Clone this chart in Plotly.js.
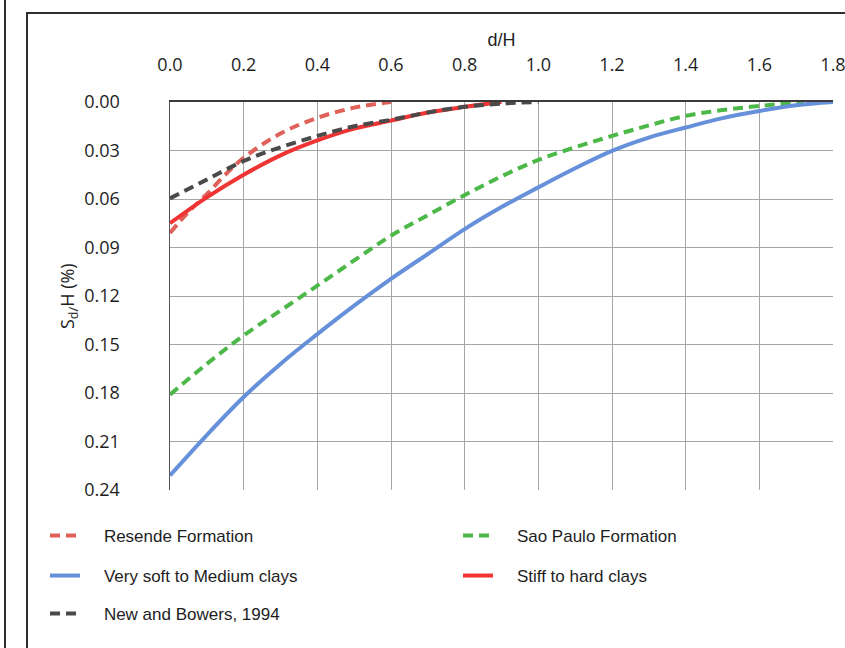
<!DOCTYPE html>
<html>
<head>
<meta charset="utf-8">
<script src="https://cdn.plot.ly/plotly-3.0.1.min.js"></script>
<style>
  html, body { margin: 0; padding: 0; background: #fff; }
  #wrap { position: relative; width: 845px; height: 648px; overflow: hidden; }
  #chart { position: absolute; left: 0; top: 0; width: 845px; height: 648px; }
  .frame { position: absolute; pointer-events: none; background: #2e2e2e; }
</style>
</head>
<body>
<div id="wrap">
  <div id="chart"></div>
  <div class="frame" style="left:4px; top:0; width:2px; height:648px;"></div>
  <div class="frame" style="left:26px; top:12px; width:2px; height:636px;"></div>
  <div class="frame" style="left:26px; top:12px; width:819px; height:2px;"></div>
</div>
<script>
// d/H values and settlement ratio S_d/H (%)
const resendeX = [0, 0.05, 0.1, 0.15, 0.2, 0.3, 0.4, 0.5, 0.6];
const resendeY = [0.081, 0.068, 0.057, 0.045, 0.0345, 0.0195, 0.0098, 0.0035, 0.0];

const saoPauloX = [0, 0.1, 0.2, 0.3, 0.4, 0.5, 0.6, 0.7, 0.8, 0.9, 1.0, 1.1, 1.2, 1.3, 1.4, 1.5, 1.6, 1.72];
const saoPauloY = [0.181, 0.162, 0.1444, 0.129, 0.1136, 0.098, 0.0827, 0.070, 0.0576, 0.046, 0.0358, 0.028, 0.021, 0.0145, 0.0086, 0.005, 0.0025, 0.0];

const softX = [0, 0.1, 0.2, 0.3, 0.4, 0.5, 0.6, 0.7, 0.8, 0.9, 1.0, 1.1, 1.2, 1.3, 1.4, 1.5, 1.6, 1.7, 1.8];
const softY = [0.231, 0.206, 0.1825, 0.162, 0.1436, 0.126, 0.1094, 0.094, 0.0786, 0.065, 0.0528, 0.041, 0.0302, 0.022, 0.0158, 0.010, 0.0056, 0.002, 0.0];

const stiffX = [0, 0.1, 0.2, 0.3, 0.4, 0.5, 0.6, 0.7, 0.8, 0.9];
const stiffY = [0.075, 0.059, 0.045, 0.033, 0.0238, 0.0165, 0.0115, 0.0065, 0.003, 0.0];

const newBowersX = [0, 0.1, 0.2, 0.3, 0.4, 0.5, 0.6, 0.7, 0.8, 0.9, 1.0];
const newBowersY = [0.0596, 0.048, 0.0365, 0.028, 0.021, 0.015, 0.011, 0.0065, 0.003, 0.001, 0.0];

const names = ["Resende Formation", "Sao Paulo Formation", "Very soft to Medium clays", "Stiff to hard clays", "New and Bowers, 1994"];
const xTickVals = [0, 0.2, 0.4, 0.6, 0.8, 1.0, 1.2, 1.4, 1.6, 1.8];
const yTickVals = [0, 0.03, 0.06, 0.09, 0.12, 0.15, 0.18, 0.21, 0.24];
const xTitle = "d/H";
const yTitle = "S<sub>d/</sub>H (%)";

const tickFont = {family: "Open Sans, DejaVu Sans, sans-serif", size: 18, color: "#1e1e1e"};
const legFont = {family: "Liberation Sans, Arial, sans-serif", size: 17, color: "#1e1e1e"};
const pad = "\u00A0\u00A0\u00A0\u00A0";

const traces = [
  {x: resendeX, y: resendeY, name: pad + names[0], legend: "legend", mode: "lines",
   line: {color: "#e0605a", width: 4, dash: "10px,6px", shape: "spline"}},
  {x: saoPauloX, y: saoPauloY, name: pad + names[1], legend: "legend2", mode: "lines",
   line: {color: "#4cb848", width: 4, dash: "10px,6px", shape: "spline"}},
  {x: softX, y: softY, name: pad + names[2], legend: "legend3", mode: "lines",
   line: {color: "#6690da", width: 4, shape: "spline"}},
  {x: stiffX, y: stiffY, name: pad + names[3], legend: "legend4", mode: "lines",
   line: {color: "#f03434", width: 4, shape: "spline"}},
  {x: newBowersX, y: newBowersY, name: pad + names[4], legend: "legend5", mode: "lines",
   line: {color: "#4a4a4a", width: 4, dash: "10px,6px", shape: "spline"}}
];

function legendAt(xPx, yPx) {
  return {
    orientation: "v", xref: "container", yref: "container",
    x: xPx / 845, y: 1 - yPx / 648, xanchor: "left", yanchor: "middle",
    itemwidth: 30, font: legFont, bgcolor: "rgba(0,0,0,0)", borderwidth: 0,
    itemclick: false, itemdoubleclick: false
  };
}

const layout = {
  width: 845, height: 648,
  margin: {l: 170, r: 12, t: 102, b: 158, autoexpand: false},
  paper_bgcolor: "#ffffff", plot_bgcolor: "#ffffff",
  showlegend: true,
  xaxis: {
    side: "top", range: [0, 1.8], tickvals: xTickVals, tickformat: ".1f",
    showgrid: true, gridcolor: "#a6a6a6", gridwidth: 1, zeroline: false,
    showline: true, linecolor: "#3a3a3a", linewidth: 2,
    ticks: "", ticklabelstandoff: 22, ticklabeloverflow: "allow", tickfont: tickFont, automargin: false,
    title: {text: xTitle, font: {family: "Liberation Sans, Arial, sans-serif", size: 18, color: "#1e1e1e"}, standoff: 0},
    fixedrange: true
  },
  yaxis: {
    range: [0.24, 0], tickvals: yTickVals, tickformat: ".2f",
    showgrid: true, gridcolor: "#a6a6a6", gridwidth: 1, zeroline: false,
    showline: true, linecolor: "#555", linewidth: 1.5,
    ticks: "", ticklabelstandoff: 45, ticklabeloverflow: "allow", tickfont: tickFont, automargin: false,
    fixedrange: true
  },
  annotations: [{
    text: yTitle, textangle: -90, showarrow: false,
    xref: "paper", x: (68 - 170) / 663, xanchor: "center",
    yref: "paper", y: 0.5, yanchor: "middle",
    font: {family: "Open Sans, DejaVu Sans, sans-serif", size: 18, color: "#1e1e1e"}
  }],
  legend: legendAt(45, 536),
  legend2: legendAt(458, 536),
  legend3: legendAt(45, 576),
  legend4: legendAt(458, 576),
  legend5: legendAt(45, 614)
};

Plotly.newPlot("chart", traces, layout, {displayModeBar: false, staticPlot: true});
</script>
</body>
</html>
